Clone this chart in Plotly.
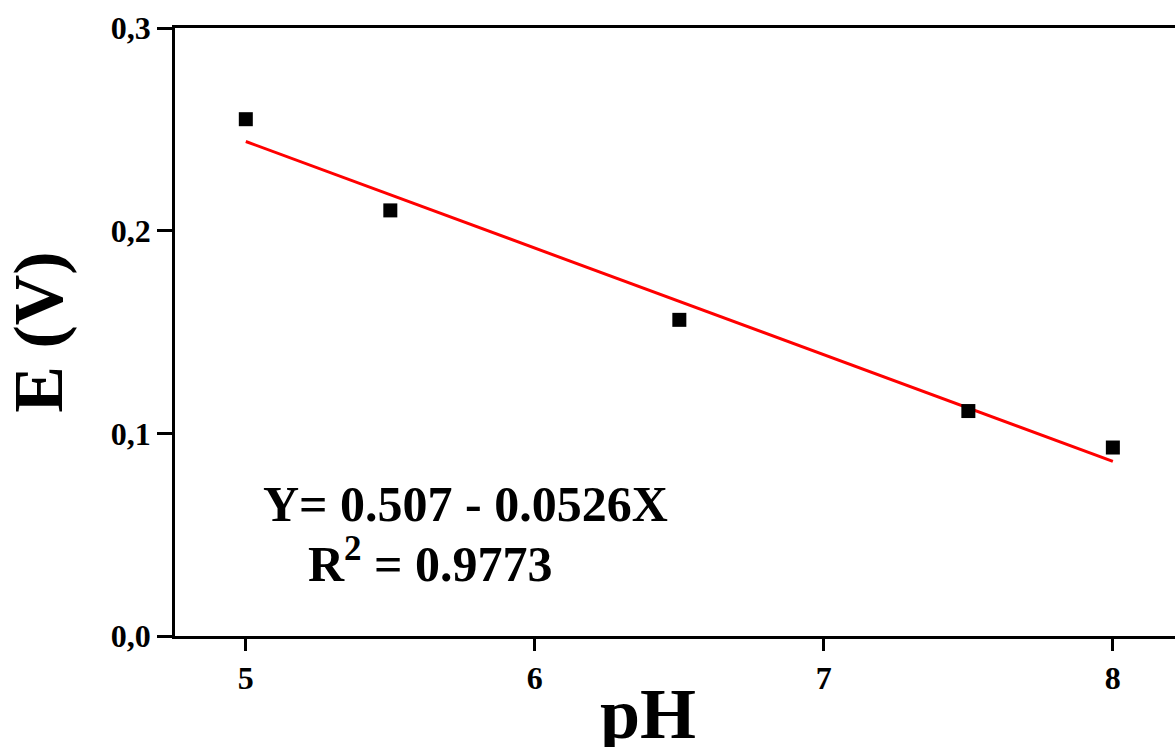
import plotly.graph_objects as go

# data
ph = [5.0, 5.5, 6.5, 7.5, 8.0]
potential = [0.255, 0.210, 0.156, 0.111, 0.093]
fit_x = [5.0, 8.0]
intercept = 0.507
slope = -0.0526
fit_y = [intercept + slope * x for x in fit_x]

x_tickvals = [5, 6, 7, 8]
x_ticktext = ["5", "6", "7", "8"]
y_tickvals = [0.0, 0.1, 0.2, 0.3]
y_ticktext = ["0,0", "0,1", "0,2", "0,3"]

x_title = "pH"
y_title = "E (V)"
eq_text = "Y= 0.507 - 0.0526X"
r2_text = "R<sup>2</sup> = 0.9773"

font_family = "Liberation Serif"

fig = go.Figure()
fig.add_trace(go.Scatter(
    x=fit_x, y=fit_y, mode="lines",
    line=dict(color="#ff0000", width=3),
    showlegend=False, hoverinfo="skip"))
fig.add_trace(go.Scatter(
    x=ph, y=potential, mode="markers",
    marker=dict(symbol="square", size=14, color="black"),
    showlegend=False))

fig.add_annotation(x=5.76, y=0.0652, xref="x", yref="y", text="<b>" + eq_text + "</b>",
                   showarrow=False, font=dict(family=font_family, size=50, color="black"))
fig.add_annotation(x=5.64, y=0.0375, xref="x", yref="y", text="<b>" + r2_text + "</b>",
                   showarrow=False, font=dict(family=font_family, size=50, color="black"))

# x-axis title, placed below the tick labels
fig.add_annotation(x=0.473, y=-0.128, xref="paper", yref="paper", text="<b>" + x_title + "</b>",
                   showarrow=False, xanchor="center", yanchor="middle",
                   font=dict(family=font_family, size=72, color="black"))

fig.update_layout(
    width=1175, height=747,
    margin=dict(l=175, r=0, t=28, b=111),
    paper_bgcolor="white", plot_bgcolor="white",
    font=dict(family=font_family, color="black"),
    xaxis=dict(
        range=[4.755, 8.215], tickvals=x_tickvals, ticktext=x_ticktext,
        ticks="outside", ticklen=12, tickwidth=2.5, tickcolor="black",
        showline=True, linewidth=2.5, linecolor="black", mirror=True,
        showgrid=False, zeroline=False,
        tickfont=dict(family=font_family, size=32, color="black", weight="bold"),
        automargin=False,
    ),
    yaxis=dict(
        range=[0, 0.3], tickvals=y_tickvals, ticktext=y_ticktext,
        ticks="outside", ticklen=15, tickwidth=2.5, tickcolor="black",
        showline=True, linewidth=2.5, linecolor="black",
        showgrid=False, zeroline=False,
        tickfont=dict(family=font_family, size=32, color="black", weight="bold"),
        title=dict(text="<b>" + y_title + "</b>",
                   font=dict(family=font_family, size=70, color="black"),
                   standoff=28),
        automargin=False,
    ),
)

fig.write_html("out.html")
